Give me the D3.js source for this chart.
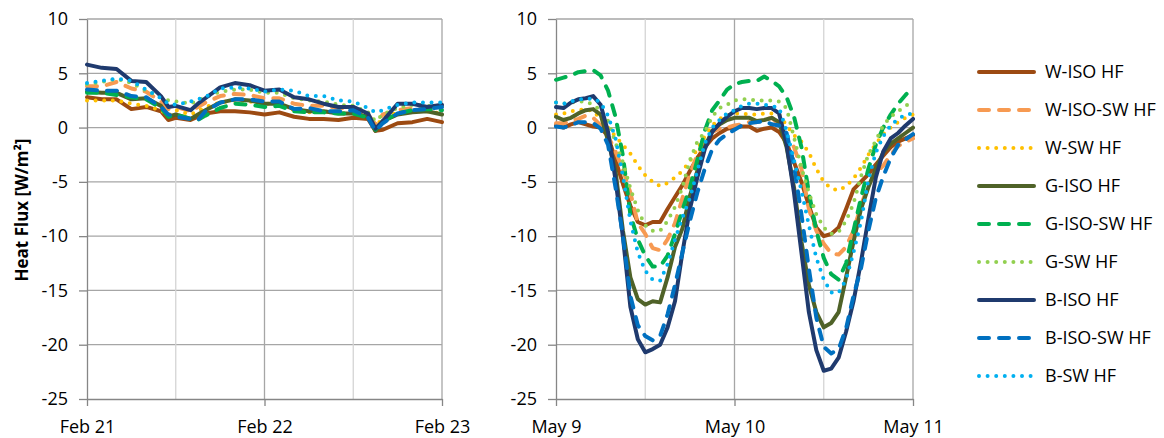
<!DOCTYPE html>
<html lang="en">
<head>
<meta charset="UTF-8">
<title>Heat flux</title>
<script src="https://d3js.org/d3.v7.min.js"></script>
<style>
  body { margin: 0; background: #ffffff; }
  svg { display: block; font-family: 'Open Sans', 'Noto Sans', sans-serif; }
  .grid-major { stroke: #a6a6a6; stroke-width: 1.3; }
  .grid-minor { stroke: #d4d4d4; stroke-width: 1.3; }
  .axis path, .axis line { stroke: #868686; stroke-width: 1.3; }
  .axis text { font-family: 'Open Sans', sans-serif; font-size: 18px; fill: #000; }
</style>
</head>
<body>
<div id="chart"></div>
<script>
// series
const seriesNames = ["W-ISO HF", "W-ISO-SW HF", "W-SW HF", "G-ISO HF", "G-ISO-SW HF", "G-SW HF", "B-ISO HF", "B-ISO-SW HF", "B-SW HF"];
const seriesColors = ["#9c4a12", "#f79a52", "#ffc000", "#4f6228", "#00b050", "#92d050", "#1f3a6e", "#0070c0", "#00b0f0"];
const seriesStyles = ["solid", "dash", "dot", "solid", "dash", "dot", "solid", "dash", "dot"];

const yTicks = [-25, -20, -15, -10, -5, 0, 5, 10];

// Feb 21 - Feb 23, hours from Feb 21 00:00
const febHours = [0, 2, 4, 6, 8, 10, 11, 12, 14, 15, 16, 18, 20, 22, 24, 26, 28, 30, 32, 34, 36, 38, 39, 40, 42, 44, 46, 48];
const febWIso   = [2.8, 2.6, 2.6, 1.7, 1.9, 1.5, 0.7, 0.9, 0.7, 1.0, 1.3, 1.5, 1.5, 1.4, 1.2, 1.4, 1.0, 0.8, 0.8, 0.7, 0.9, 0.8, -0.3, -0.2, 0.4, 0.5, 0.8, 0.5];
const febWIsoSw = [3.8, 3.8, 4.2, 3.6, 3.3, 2.4, 1.7, 1.9, 1.5, 1.9, 2.3, 2.9, 3.1, 3.0, 2.7, 2.7, 2.2, 2.0, 2.0, 1.8, 1.7, 1.2, 0.3, 1.2, 1.6, 1.8, 1.9, 2.0];
const febWSw    = [2.5, 2.5, 2.5, 2.2, 2.0, 1.6, 1.1, 1.6, 1.2, 1.5, 1.9, 2.3, 2.5, 2.4, 2.2, 2.2, 1.6, 1.4, 1.5, 1.3, 1.3, 1.0, 0.1, 0.9, 1.4, 1.5, 1.5, 1.3];
const febGIso   = [3.3, 3.2, 3.2, 2.6, 2.7, 2.0, 1.0, 1.2, 0.8, 1.2, 1.6, 2.3, 2.6, 2.5, 2.2, 2.2, 1.7, 1.5, 1.5, 1.3, 1.3, 1.0, -0.3, 0.6, 1.2, 1.4, 1.5, 1.2];
const febGIsoSw = [3.2, 3.2, 3.0, 2.8, 2.6, 1.8, 1.0, 1.2, 0.8, 0.7, 1.1, 1.8, 2.2, 2.1, 1.9, 2.0, 1.5, 1.4, 1.4, 1.3, 1.3, 0.9, -0.2, 0.6, 1.3, 1.6, 1.7, 1.6];
const febGSw    = [4.0, 4.2, 4.5, 4.1, 3.4, 2.8, 2.5, 2.4, 2.2, 2.5, 2.8, 3.3, 3.5, 3.5, 3.2, 3.2, 2.7, 2.5, 2.4, 2.1, 2.0, 1.4, 0.6, 1.2, 1.8, 2.1, 2.0, 1.9];
const febBIso   = [5.8, 5.5, 5.4, 4.3, 4.2, 2.9, 1.9, 2.0, 1.6, 2.2, 2.7, 3.7, 4.1, 3.9, 3.4, 3.5, 2.8, 2.6, 2.2, 1.9, 1.9, 1.3, -0.1, 0.6, 2.2, 2.2, 1.9, 2.1];
const febBIsoSw = [3.5, 3.4, 3.4, 2.9, 2.8, 1.9, 1.2, 1.0, 0.8, 0.7, 1.5, 2.3, 2.6, 2.6, 2.4, 2.4, 1.7, 1.8, 1.5, 1.5, 1.6, 0.9, -0.3, 0.4, 1.3, 1.6, 1.7, 1.9];
const febBSw    = [4.1, 4.3, 4.5, 4.3, 3.5, 2.7, 2.2, 2.1, 2.4, 2.6, 2.8, 3.6, 3.7, 3.6, 3.3, 3.5, 3.4, 2.9, 2.9, 2.5, 2.4, 1.8, 1.4, 1.6, 2.1, 2.3, 2.3, 2.3];

// May 9 - May 11, hourly
const mayHours = d3.range(0, 49);
const mayWIso = [0.2, 0.0, 0.3, 0.5, 0.3, 0.1, 0.0, -0.8, -3.0, -5.2,
  -7.2, -8.7, -9.0, -8.7, -8.7, -7.5, -6.4, -5.3, -4.0, -2.8,
  -1.8, -1.0, -0.5, -0.1, 0.0, 0.1, 0.1, -0.3, -0.1, 0.0,
  -0.4, -1.4, -3.2, -5.0, -7.2, -9.2, -10.0, -9.8, -9.2, -7.5,
  -5.7, -5.0, -4.3, -3.4, -2.6, -1.8, -1.3, -1.0, -0.7];
const mayWIsoSw = [0.4, 0.4, 0.6, 0.8, 1.1, 0.9, 0.2, -0.8, -2.2, -3.9,
  -6.0, -8.8, -9.8, -11.1, -11.3, -10.3, -8.8, -6.5, -4.3, -2.5,
  -1.3, -0.4, -0.1, 0.0, 0.2, 0.3, 0.5, 0.5, 0.7, 0.9,
  0.3, -0.8, -1.8, -3.8, -7.5, -9.5, -10.7, -11.6, -11.7, -11.0,
  -9.5, -7.2, -5.3, -4.2, -3.5, -2.5, -1.7, -1.3, -1.0];
const mayWSw = [1.2, 1.3, 1.5, 1.6, 1.7, 1.5, 0.8, 0.0, -0.8, -1.6,
  -2.4, -3.5, -4.4, -5.0, -5.4, -5.1, -4.6, -4.0, -3.1, -2.0,
  -0.8, 0.2, 0.8, 1.1, 1.3, 1.3, 1.2, 1.2, 1.3, 1.3,
  1.2, 0.2, -0.7, -1.3, -2.3, -3.8, -5.0, -5.6, -5.8, -5.4,
  -4.7, -3.7, -2.5, -1.5, -0.6, 0.0, 0.5, 0.9, 1.2];
const mayGIso = [1.0, 0.7, 0.9, 1.3, 1.6, 1.7, 1.2, -1.2, -4.0, -9.5,
  -13.8, -15.8, -16.3, -16.0, -16.1, -13.8, -11.0, -9.3, -6.3, -4.0,
  -1.8, -0.3, 0.3, 0.7, 0.9, 0.9, 0.9, 0.6, 0.7, 0.9,
  0.5, -1.8, -5.5, -10.5, -14.5, -17.0, -18.4, -18.0, -17.0, -13.8,
  -10.5, -7.5, -5.5, -3.8, -2.3, -1.5, -1.0, -0.5, 0.0];
const mayGIsoSw = [4.4, 4.6, 4.8, 5.1, 5.2, 5.3, 4.8, 3.4, 1.0, -2.6,
  -8.0, -10.3, -11.8, -12.8, -12.8, -11.8, -9.8, -7.6, -5.5, -3.0,
  -0.3, 1.6, 2.5, 3.5, 4.0, 4.2, 4.3, 4.3, 4.7, 4.3,
  3.8, 2.8, 1.0, -1.8, -6.0, -9.5, -12.0, -13.5, -14.0, -12.5,
  -9.5, -6.5, -3.8, -1.6, 0.0, 1.2, 2.2, 3.0, 3.7];
const mayGSw = [2.3, 2.2, 2.3, 2.4, 2.4, 2.1, 1.6, 0.6, -1.4, -3.2,
  -5.6, -7.6, -9.0, -9.5, -9.5, -8.6, -7.3, -5.5, -3.0, -1.3,
  -0.4, 1.0, 1.8, 2.1, 2.5, 2.6, 2.6, 2.5, 2.5, 2.5,
  2.4, 1.8, -0.9, -3.7, -6.0, -8.0, -9.2, -9.8, -9.6, -8.6,
  -7.0, -4.5, -2.5, -1.2, 0.2, 1.0, 1.5, 2.0, 2.4];
const mayBIso = [1.9, 1.8, 2.3, 2.6, 2.7, 2.9, 2.1, -0.4, -4.8, -10.1,
  -16.5, -19.5, -20.7, -20.4, -20.0, -18.4, -16.0, -11.5, -7.5, -4.6,
  -2.0, -0.4, 0.4, 1.0, 1.5, 1.8, 1.8, 1.7, 1.8, 1.8,
  1.3, -1.5, -6.0, -11.5, -17.0, -20.5, -22.4, -22.2, -21.2, -18.8,
  -16.0, -12.4, -8.4, -4.6, -2.2, -1.0, -0.5, 0.2, 0.8];
const mayBIsoSw = [0.1, 0.0, 0.2, 0.5, 0.5, 0.4, -0.1, -1.6, -5.5, -10.0,
  -15.5, -18.2, -19.2, -19.6, -19.2, -17.2, -14.5, -11.5, -8.6, -6.0,
  -3.8, -2.0, -1.1, -0.6, -0.2, 0.2, 0.4, 0.5, 0.6, 0.3,
  0.2, -0.5, -3.5, -8.0, -13.0, -17.5, -20.2, -20.8, -20.4, -18.5,
  -15.5, -13.0, -9.5, -6.5, -4.5, -2.8, -1.6, -1.1, -0.6];
const mayBSw = [2.3, 2.2, 2.4, 2.6, 2.6, 2.7, 2.3, 1.1, -1.0, -4.5,
  -8.6, -11.5, -13.2, -14.0, -14.1, -12.6, -10.3, -8.3, -6.5, -4.0,
  -1.5, 0.0, 0.7, 1.3, 1.6, 2.0, 2.2, 2.2, 2.1, 2.0,
  1.8, -0.3, -3.0, -5.8, -9.0, -12.0, -14.0, -15.2, -15.2, -14.0,
  -11.5, -8.7, -4.8, -2.3, -0.8, 0.2, 0.8, 1.2, 1.3];

const febSeries = [febWIso, febWIsoSw, febWSw, febGIso, febGIsoSw, febGSw, febBIso, febBIsoSw, febBSw];
const maySeries = [mayWIso, mayWIsoSw, mayWSw, mayGIso, mayGIsoSw, mayGSw, mayBIso, mayBIsoSw, mayBSw];

const W = 1164, H = 438;
const svg = d3.select("#chart").append("svg").attr("width", W).attr("height", H);

const y = d3.scaleLinear().domain([-25, 10]).range([399, 19]);

function dashFor(style) {
  if (style === "dash") return "10,10";
  if (style === "dot") return "0,8.6";
  return null;
}

function drawPanel(start, left, right, hours, values) {
  const x = d3.scaleUtc().domain([start, d3.utcHour.offset(start, 48)]).range([left, right]);
  const g = svg.append("g");

  // horizontal gridlines
  g.selectAll(".hgrid").data(yTicks.filter(t => t > -25)).join("line")
    .attr("class", "grid-major")
    .attr("x1", left).attr("x2", right)
    .attr("y1", d => y(d)).attr("y2", d => y(d));

  // vertical gridlines every 12 h
  g.selectAll(".vgrid").data(x.ticks(d3.utcHour.every(12)).slice(1)).join("line")
    .attr("class", d => d.getUTCHours() === 12 ? "grid-minor" : "grid-major")
    .attr("x1", d => x(d)).attr("x2", d => x(d))
    .attr("y1", y(10)).attr("y2", y(-25));

  // axes (plain hyphen for negatives, like the original)
  g.append("g").attr("class", "axis")
    .attr("transform", `translate(${left},0)`)
    .call(d3.axisLeft(y).tickValues(yTicks).tickFormat(d => String(d))
      .tickSize(8).tickPadding(11).tickSizeOuter(0));
  g.append("g").attr("class", "axis")
    .attr("transform", `translate(0,${y(-25)})`)
    .call(d3.axisBottom(x).ticks(d3.utcDay.every(1)).tickFormat(d3.utcFormat("%b %-d"))
      .tickSize(7).tickPadding(14).tickSizeOuter(0));
  g.selectAll(".axis text").attr("font-family", null).attr("font-size", null);

  // series lines
  values.forEach((vals, s) => {
    const line = d3.line()
      .x((d, i) => x(d3.utcHour.offset(start, hours[i])))
      .y(d => y(d));
    g.append("path")
      .datum(vals)
      .attr("d", line)
      .attr("fill", "none")
      .attr("stroke", seriesColors[s])
      .attr("stroke-width", 4)
      .attr("stroke-linecap", "round")
      .attr("stroke-linejoin", "round")
      .attr("stroke-dasharray", dashFor(seriesStyles[s]));
  });
}

drawPanel(new Date(Date.UTC(2013, 1, 21)), 87, 442, febHours, febSeries);
drawPanel(new Date(Date.UTC(2013, 4, 9)), 556, 913, mayHours, maySeries);

// y axis title
svg.append("text")
  .attr("transform", "translate(22,210) rotate(-90)")
  .attr("text-anchor", "middle")
  .attr("dy", "0.35em")
  .attr("font-size", 17)
  .attr("font-weight", "bold")
  .text("Heat Flux [W/m²]");

// legend
const legend = svg.append("g").selectAll("g").data(seriesNames).join("g")
  .attr("transform", (d, i) => `translate(978,${72 + i * 38})`);
legend.append("line")
  .attr("x1", 1).attr("x2", 56)
  .attr("stroke", (d, i) => seriesColors[i])
  .attr("stroke-width", 4)
  .attr("stroke-linecap", "round")
  .attr("stroke-dasharray", (d, i) => dashFor(seriesStyles[i]));
legend.append("text")
  .attr("x", 67)
  .attr("dy", "0.35em")
  .attr("font-size", 18)
  .text(d => d);
</script>
</body>
</html>
